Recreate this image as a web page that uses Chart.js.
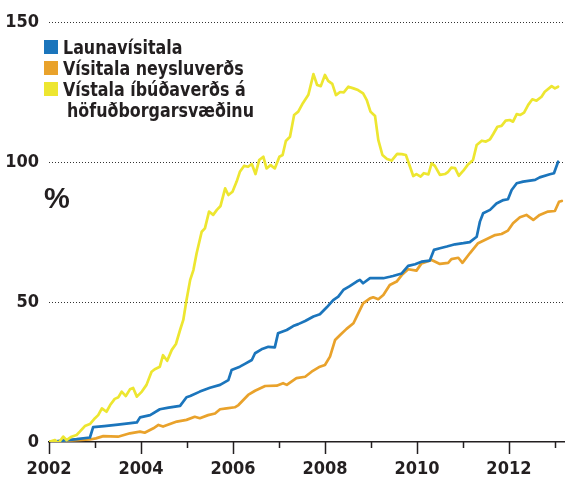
<!DOCTYPE html>
<html>
<head>
<meta charset="utf-8">
<script src="https://cdn.jsdelivr.net/npm/chart.js@4.4.1/dist/chart.umd.min.js"></script>
<style>
  html, body { margin: 0; padding: 0; background: #ffffff; }
  #wrap { position: relative; width: 565px; height: 482px; overflow: hidden; }
  canvas { position: absolute; left: 0; top: 0; }
  #legend { position: absolute; left: 44px; top: 36px; font-family: 'Liberation Sans Narrow', 'DejaVu Sans Condensed', 'Liberation Sans', sans-serif; font-weight: bold; font-size: 19px; line-height: 21px; color: #231f20; }
  .row { position: relative; height: 21px; white-space: nowrap; }
  .sw { position: absolute; left: 0; top: 4px; width: 14px; height: 14px; }
  .lbl, .lbl2 { position: absolute; top: 1px; transform: scaleX(0.93); transform-origin: 0 50%; }
  .lbl { left: 19px; }
  .lbl2 { left: 23px; }
  #unit { position: absolute; left: 44px; top: 182px; font-family: 'Liberation Sans', sans-serif; font-weight: bold; font-size: 29px; color: #231f20; }
</style>
</head>
<body>
<div id="wrap">
  <canvas id="c" width="565" height="482"></canvas>
  <div id="legend"></div>
  <div id="unit">%</div>
</div>
<script>
// ---- data (decimal year, % change since 2002) ----
const seriesNames = ['Launavísitala', 'Vísitala neysluverðs', 'Vístala íbúðaverðs á', 'höfuðborgarsvæðinu'];

const wageT = [2002.00,2002.30,2002.60,2002.89,2002.96,2003.20,2003.50,2003.91,2003.98,2004.20,2004.41,2004.60,2004.85,2004.99,2005.07,2005.28,2005.50,2005.72,2005.90,2005.97,2006.15,2006.26,2006.41,2006.48,2006.62,2006.77,2006.91,2006.98,2007.17,2007.31,2007.42,2007.57,2007.75,2007.89,2008.04,2008.18,2008.29,2008.40,2008.54,2008.69,2008.76,2008.83,2008.98,2009.12,2009.27,2009.41,2009.48,2009.67,2009.81,2009.96,2010.10,2010.28,2010.37,2010.50,2010.65,2010.83,2011.01,2011.15,2011.30,2011.37,2011.44,2011.59,2011.73,2011.88,2011.98,2012.06,2012.17,2012.31,2012.57,2012.67,2012.89,2012.98,2013.07];
const wageV = [0,0.5,1.0,1.6,5.3,5.7,6.2,7.0,8.8,9.6,11.7,12.3,12.9,16.0,16.4,18.0,19.4,20.4,22.1,25.7,26.9,27.9,29.3,31.7,33.1,34.0,33.8,38.8,40.0,41.4,42.1,43.2,44.8,45.6,48.1,50.7,51.9,54.3,55.7,57.3,57.9,56.7,58.5,58.5,58.5,59.0,59.3,60.2,62.9,63.5,64.4,64.8,68.6,69.2,69.8,70.6,71.0,71.4,73.3,78.7,81.7,82.9,85.2,86.4,86.7,90.0,92.4,93.0,93.6,94.5,95.6,96.0,100.1];

const cpiT = [2002.00,2002.30,2002.60,2002.89,2003.02,2003.18,2003.50,2003.76,2003.98,2004.08,2004.27,2004.38,2004.48,2004.63,2004.78,2004.99,2005.17,2005.28,2005.46,2005.61,2005.72,2005.86,2006.04,2006.12,2006.33,2006.48,2006.70,2006.95,2007.09,2007.17,2007.38,2007.57,2007.71,2007.89,2008.00,2008.11,2008.22,2008.33,2008.47,2008.62,2008.69,2008.83,2008.98,2009.05,2009.16,2009.27,2009.41,2009.56,2009.67,2009.81,2009.99,2010.10,2010.32,2010.50,2010.68,2010.75,2010.90,2010.99,2011.15,2011.33,2011.51,2011.70,2011.84,2011.98,2012.09,2012.24,2012.38,2012.53,2012.67,2012.85,2013.00,2013.09,2013.15];
const cpiV = [0,0.4,0.7,0.9,1.3,2.1,1.9,3.1,3.7,3.3,4.9,6.1,5.5,6.4,7.3,7.9,9.0,8.5,9.6,10.2,11.7,12.0,12.4,13.2,16.8,18.3,20.0,20.1,21.0,20.4,22.8,23.3,25.1,26.9,27.5,30.5,36.4,38.2,40.4,42.4,44.8,49.5,51.3,51.7,51.0,52.5,56.1,57.3,59.6,61.7,61.2,63.8,65.0,63.6,64.0,65.3,65.8,64.0,67.4,71.0,72.4,73.9,74.3,75.5,78.1,80.3,81.1,79.3,81.1,82.3,82.5,85.8,86.1];

const houseT = [2002.00,2002.13,2002.20,2002.31,2002.38,2002.49,2002.60,2002.67,2002.78,2002.89,2003.00,2003.07,2003.15,2003.25,2003.33,2003.43,2003.51,2003.58,2003.67,2003.76,2003.83,2003.91,2004.02,2004.12,2004.23,2004.30,2004.41,2004.48,2004.57,2004.67,2004.76,2004.85,2004.92,2004.99,2005.07,2005.14,2005.21,2005.32,2005.39,2005.48,2005.57,2005.65,2005.73,2005.83,2005.90,2005.99,2006.08,2006.15,2006.24,2006.33,2006.41,2006.49,2006.57,2006.66,2006.73,2006.82,2006.91,2007.01,2007.08,2007.15,2007.24,2007.33,2007.42,2007.52,2007.64,2007.75,2007.83,2007.91,2008.00,2008.07,2008.16,2008.24,2008.33,2008.41,2008.51,2008.62,2008.72,2008.83,2008.91,2008.99,2009.09,2009.16,2009.25,2009.35,2009.45,2009.57,2009.67,2009.76,2009.85,2009.92,2009.99,2010.08,2010.15,2010.25,2010.32,2010.39,2010.50,2010.61,2010.68,2010.75,2010.83,2010.91,2011.01,2011.10,2011.22,2011.30,2011.41,2011.50,2011.59,2011.66,2011.75,2011.84,2011.93,2012.02,2012.09,2012.17,2012.25,2012.33,2012.42,2012.51,2012.60,2012.71,2012.78,2012.93,2013.00,2013.07];
const houseV = [0,0.7,-0.5,1.9,0.7,1.9,2.5,3.7,5.7,6.4,8.5,9.6,12.0,10.8,13.2,15.4,16.0,18.0,16.4,18.8,19.3,16.2,18.0,20.4,25.1,26.0,26.9,31.0,29.0,32.9,35.0,40.0,43.6,50.7,57.9,61.4,67.4,75.1,76.3,82.3,81.1,82.9,84.3,90.6,88.2,89.4,93.0,96.5,98.6,98.3,99.3,95.7,100.7,101.9,97.7,98.9,97.7,101.9,102.5,107.5,109.0,116.8,118.0,121.0,124.0,131.4,127.5,127.1,131.1,129.0,127.9,123.9,125.0,124.9,126.9,126.3,125.7,124.5,122.1,118.0,116.4,107.9,102.5,101.1,100.5,102.9,102.8,102.5,98.3,95.0,95.7,94.8,96.0,95.6,99.5,98.6,95.4,95.7,96.5,98.0,97.8,95.1,96.9,98.9,100.7,106.1,107.6,107.3,108.1,110.0,112.6,112.9,114.8,115.0,114.4,117.1,116.8,117.6,120.4,122.4,121.9,123.3,125.1,127.1,126.3,126.9];

const yearTicks = [2002,2003,2004,2005,2006,2007,2008,2009,2010,2011,2012,2013];
const yearLabels = ['2002','','2004','','2006','','2008','','2010','','2012',''];
const yTicks = [0, 50, 100, 150];

const colors = { wage: '#1b75bc', cpi: '#e9a22b', house: '#ede630' };
const ink = '#231f20';
const axisFont = { family: "'Liberation Sans Narrow', 'DejaVu Sans Condensed', 'Liberation Sans', sans-serif", size: 18, weight: 'bold' };

function pts(t, v) { return t.map((x, i) => ({ x: x, y: v[i] })); }

// legend (HTML text)
(function () {
  const lg = document.getElementById('legend');
  const items = [[seriesNames[0], colors.wage], [seriesNames[1], colors.cpi], [seriesNames[2], colors.house], [seriesNames[3], null]];
  items.forEach(([name, col]) => {
    const r = document.createElement('div'); r.className = 'row';
    if (col) { const s = document.createElement('span'); s.className = 'sw'; s.style.background = col; r.appendChild(s); }
    const l = document.createElement('span'); l.className = col ? 'lbl' : 'lbl2'; l.textContent = name; r.appendChild(l);
    lg.appendChild(r);
  });
})();

const tickMarks = {
  id: 'tickMarks',
  afterDraw(chart) {
    const xs = chart.scales.x, ctx = chart.ctx, b = chart.chartArea.bottom;
    ctx.save();
    ctx.strokeStyle = ink; ctx.lineWidth = 1.5;
    yearTicks.forEach((yr, i) => {
      const px = Math.round(xs.getPixelForValue(yr)) + 0.5;
      ctx.beginPath(); ctx.moveTo(px, b); ctx.lineTo(px, b + (yearLabels[i] ? 12 : 6)); ctx.stroke();
    });
    ctx.restore();
  }
};

new Chart(document.getElementById('c'), {
  type: 'line',
  data: {
    datasets: [
      { label: seriesNames[2] + ' ' + seriesNames[3], data: pts(houseT, houseV), borderColor: colors.house, order: 0 },
      { label: seriesNames[0], data: pts(wageT, wageV), borderColor: colors.wage, order: 1 },
      { label: seriesNames[1], data: pts(cpiT, cpiV), borderColor: colors.cpi, order: 2 }
    ]
  },
  options: {
    responsive: false,
    devicePixelRatio: 1,
    animation: false,
    layout: { padding: { top: 22, left: 0, right: 0, bottom: 0 } },
    elements: { point: { radius: 0 }, line: { borderWidth: 2.7, tension: 0, borderJoinStyle: 'round', borderCapStyle: 'round' } },
    plugins: { legend: { display: false }, tooltip: { enabled: false } },
    scales: {
      x: {
        type: 'linear', min: 2002, max: 2013.22,
        afterBuildTicks: (s) => { s.ticks = yearTicks.map(v => ({ value: v })); },
        afterFit: (s) => { s.height = 40; },
        grid: { display: false },
        border: { display: true, color: ink, width: 1.5 },
        ticks: { autoSkip: false, maxRotation: 0, padding: 9, color: ink, font: axisFont,
          callback: (v) => { const i = yearTicks.indexOf(v); return i >= 0 ? yearLabels[i] : ''; } }
      },
      y: {
        min: 0, max: 150,
        afterBuildTicks: (s) => { s.ticks = yTicks.map(v => ({ value: v })); },
        afterFit: (s) => { s.width = 49; },
        border: { display: false, dash: [1, 2] },
        grid: { drawTicks: false, lineWidth: 1, color: (c) => (c.tick && c.tick.value === 0) ? 'rgba(0,0,0,0)' : '#333333' },
        ticks: { padding: 10, color: ink, font: axisFont }
      }
    }
  },
  plugins: [tickMarks]
});
</script>
</body>
</html>
